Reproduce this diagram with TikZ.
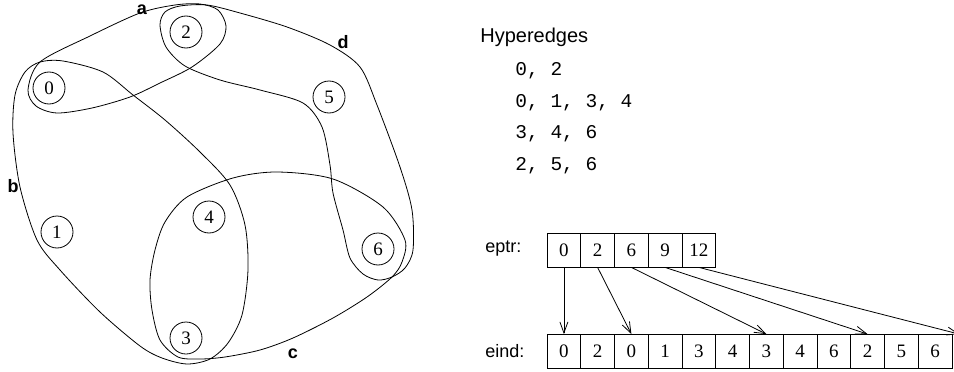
\documentclass[tikz,border=0pt]{standalone}
\usepackage{fontspec}
\setmainfont{Liberation Serif}
\setsansfont{Liberation Sans}
\setmonofont{Liberation Mono}
\usetikzlibrary{positioning}
\usetikzlibrary{arrows.meta}
\tikzset{
    vertex/.style={
        circle,
        draw,
        minimum size=32pt,
        inner sep=0pt,
        font=\fontsize{19}{21}\selectfont},
    cell/.style={
        draw,
        minimum width=33.75pt,
        minimum height=34pt,
        inner sep=0pt,
        font=\fontsize{19}{21}\selectfont},
    edgename/.style={
        inner sep=0pt,
        font=\sffamily\bfseries\fontsize{18}{20}\selectfont},
    caption/.style={
        anchor=base west,
        inner sep=0pt,
        font=\sffamily\fontsize{18}{20}\selectfont},
    listline/.style={
        anchor=base west,
        inner sep=0pt,
        font=\ttfamily\fontsize{19.5}{22}\selectfont},
    every edge/.style={
        draw,
        -{Straight Barb[length=11pt,width=8pt]}}}

\begin{document}
\begin{tikzpicture}[x=1pt,y=-1pt,line width=0.8pt]
        \useasboundingbox (0,0) rectangle (954,372);

        % vertices
        \node[vertex] (v0) at (49,88) {0};
        \node[vertex] (v1) at (57,232) {1};
        \node[vertex] (v2) at (186,32) {2};
        \node[vertex] (v3) at (186,338) {3};
        \node[vertex] (v4) at (209,217) {4};
        \node[vertex] (v5) at (329,97) {5};
        \node[vertex] (v6) at (378,249) {6};

        % hyperedge a = {0,2}
        \draw plot[smooth cycle] coordinates {(28,90) (40,62) (90,36) (140,13)
            (175,5) (200,4) (218,10) (226,26) (220,44) (192,67) (160,83)
            (130,97) (92,108) (57,113) (36,106)};
        % hyperedge b = {0,1,3,4}
        \draw plot[smooth cycle] coordinates {(40,62) (63,61) (103,72) (133,95)
            (165,120) (200,152) (230,185) (245,225) (248,270) (242,315)
            (228,343) (210,359) (187,364) (162,358) (140,346) (100,312)
            (60,270) (37,240) (20,187) (13,133) (15,95) (25,72)};
        % hyperedge c = {3,4,6}
        \draw plot[smooth cycle] coordinates {(392,277) (367,297) (333,318)
            (293,338) (260,350) (225,357) (200,359) (178,357) (160,340)
            (152,310) (150,280) (155,250) (165,222) (187,197) (233,178)
            (277,172) (333,179) (383,207) (405,240) (402,262)};
        % hyperedge d = {2,5,6}
        \draw plot[smooth cycle] coordinates {(160,25) (165,12) (180,6) (207,5)
            (240,13) (287,27) (330,45) (360,67) (377,105) (400,167) (412,210)
            (413,250) (405,268) (392,277) (378,280) (363,274) (350,258)
            (343,230) (333,193) (330,165) (322,127) (303,103) (260,90)
            (220,80) (185,66) (166,47)};

        \node[edgename] (la) at (142,10) {a};
        \node[edgename] (lb) at (13,186) {b};
        \node[edgename] (lc) at (293,354) {c};
        \node[edgename] (ld) at (343,42) {d};

        % list of hyperedges
        \node[caption,font=\sffamily\fontsize{20}{22}\selectfont] (title) at (480,42) {Hyperedges};
        \node[listline] (h0) at (515,75) {0, 2};
        \node[listline] (h1) at (515,107) {0, 1, 3, 4};
        \node[listline] (h2) at (515,138) {3, 4, 6};
        \node[listline] (h3) at (515,170) {2, 5, 6};

        % eptr array
        \node[caption] (eptr) at (485,252) {eptr:};
        \node[cell] (p0) at (563.9,250) {0};
        \node[cell] (p1) at (597.6,250) {2};
        \node[cell] (p2) at (631.4,250) {6};
        \node[cell] (p3) at (665.1,250) {9};
        \node[cell] (p4) at (698.9,250) {12};

        % eind array
        \node[caption] (eind) at (485,357) {eind:};
        \node[cell] (i0) at (563.9,351.5) {0};
        \node[cell] (i1) at (597.6,351.5) {2};
        \node[cell] (i2) at (631.4,351.5) {0};
        \node[cell] (i3) at (665.1,351.5) {1};
        \node[cell] (i4) at (698.9,351.5) {3};
        \node[cell] (i5) at (732.6,351.5) {4};
        \node[cell] (i6) at (766.4,351.5) {3};
        \node[cell] (i7) at (800.1,351.5) {4};
        \node[cell] (i8) at (833.9,351.5) {6};
        \node[cell] (i9) at (867.6,351.5) {2};
        \node[cell] (i10) at (901.4,351.5) {5};
        \node[cell] (i11) at (935.1,351.5) {6};
        \coordinate[right=24pt of i11.north] (i12);

        \draw (p0.south) edge (i0.north);
        \draw (p1.south) edge (i2.north);
        \draw (p2.south) edge (i6.north);
        \draw (p3.south) edge (i9.north);
        \draw (p4.south) edge (i12);

    \end{tikzpicture}
\end{document}
